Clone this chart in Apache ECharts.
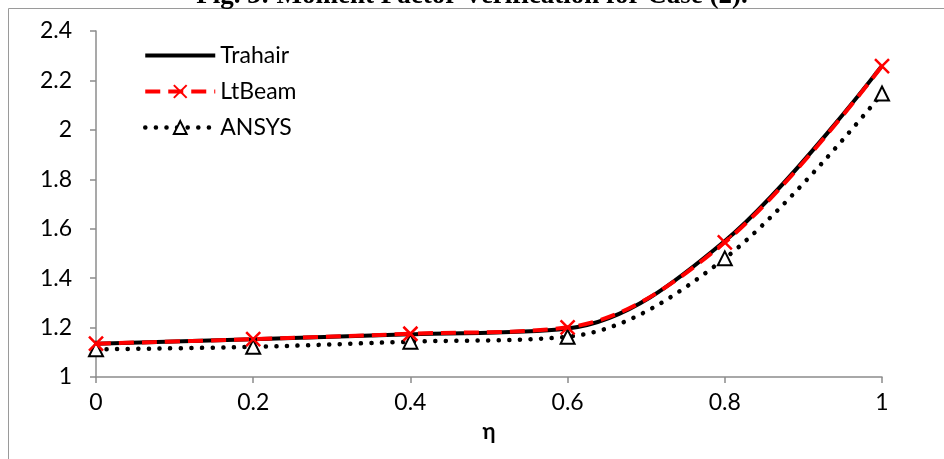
<!DOCTYPE html>
<html>
<head>
<meta charset="utf-8" />
<title>Moment Factor Verification</title>
<script src="https://cdn.jsdelivr.net/npm/echarts@6/dist/echarts.min.js"></script>
<style>
html,body{margin:0;padding:0;background:#fff;}
#chart{width:944px;height:459px;}
</style>
</head>
<body>
<div id="chart"></div>
<script>
// eta values and moment factors
var eta = [0, 0.2, 0.4, 0.6, 0.8, 1];
var trahair = [1.135, 1.153, 1.173, 1.196, 1.55, 2.26];
var ltbeam = [1.135, 1.153, 1.175, 1.201, 1.545, 2.258];
var ansys = [1.112, 1.122, 1.143, 1.163, 1.48, 2.147];
var xTicks = [0, 0.2, 0.4, 0.6, 0.8, 1];
var yTicks = [1, 1.2, 1.4, 1.6, 1.8, 2, 2.2, 2.4];

function pairs(ys) {
	return eta.map(function(x, i) { return [x, ys[i]]; });
}

var font = 'Lato, "Open Sans", sans-serif';
var crossPath = 'path://M0,0 L10,10 M10,0 L0,10';

var myChart = echarts.init(document.getElementById('chart'));
var option = {
	animation: false,
	title: {
		text: 'Fig. 3: Moment Factor Verification for Case (2).',
		left: 'center',
		top: -22,
		textStyle: { fontFamily: '"Liberation Serif", serif', fontWeight: 'bold', fontSize: 27, color: '#000' }
	},
	graphic: [{
		type: 'rect',
		shape: { x: 8.5, y: 8.5, width: 1000, height: 500 },
		style: { fill: 'none', stroke: '#9a9a9a', lineWidth: 1 },
		silent: true
	}],
	legend: {
		orient: 'vertical',
		left: 138,
		top: 39,
		itemGap: 13,
		itemWidth: 70,
		itemHeight: 16,
		textStyle: { fontFamily: font, fontSize: 23, color: '#000' },
		data: [
			{ name: 'Trahair', icon: 'path://M0,0 L70,0 L70,4 L0,4 Z', itemStyle: { color: '#000' } },
			{ name: 'LtBeam', lineStyle: { width: 4 } },
			{ name: 'ANSYS', lineStyle: { width: 4.5 } }
		]
	},
	grid: { left: 96, right: 62, top: 31, bottom: 82 },
	xAxis: {
		type: 'value',
		min: xTicks[0],
		max: xTicks[xTicks.length - 1],
		interval: 0.2,
		name: 'η',
		nameLocation: 'middle',
		nameGap: 44,
		nameTextStyle: { fontFamily: font, fontWeight: 'bold', fontSize: 22, color: '#000' },
		axisLine: { onZero: false, lineStyle: { color: '#8c8c8c', width: 1.5 } },
		axisTick: { show: true, length: 6, lineStyle: { color: '#8c8c8c', width: 1.5 } },
		axisLabel: { margin: 14, fontFamily: font, fontSize: 23, color: '#000' },
		splitLine: { show: false }
	},
	yAxis: {
		type: 'value',
		min: yTicks[0],
		max: yTicks[yTicks.length - 1],
		interval: 0.2,
		axisLine: { show: true, lineStyle: { color: '#8c8c8c', width: 1.5 } },
		axisTick: { show: true, length: 6, lineStyle: { color: '#8c8c8c', width: 1.5 } },
		axisLabel: { margin: 24, fontFamily: font, fontSize: 23, color: '#000' },
		splitLine: { show: false }
	},
	series: [{
		name: 'Trahair',
		type: 'line',
		smooth: 0.35,
		data: pairs(trahair),
		symbol: 'none',
		lineStyle: { color: '#000', width: 4 },
		itemStyle: { color: '#000' },
		z: 2
	}, {
		name: 'LtBeam',
		type: 'line',
		smooth: 0.35,
		data: pairs(ltbeam),
		symbol: crossPath,
		symbolSize: 14,
		itemStyle: { color: 'none', borderColor: '#ff0000', borderWidth: 2.5 },
		lineStyle: { color: '#ff0000', width: 4, type: [15, 8] },
		z: 3
	}, {
		name: 'ANSYS',
		type: 'line',
		smooth: 0.35,
		data: pairs(ansys),
		symbol: 'triangle',
		symbolSize: 14,
		itemStyle: { color: '#fff', borderColor: '#000', borderWidth: 2 },
		lineStyle: { color: '#000', width: 4.5, type: [0.1, 10.5], cap: 'round' },
		z: 1
	}]
};
myChart.setOption(option);
</script>
</body>
</html>
